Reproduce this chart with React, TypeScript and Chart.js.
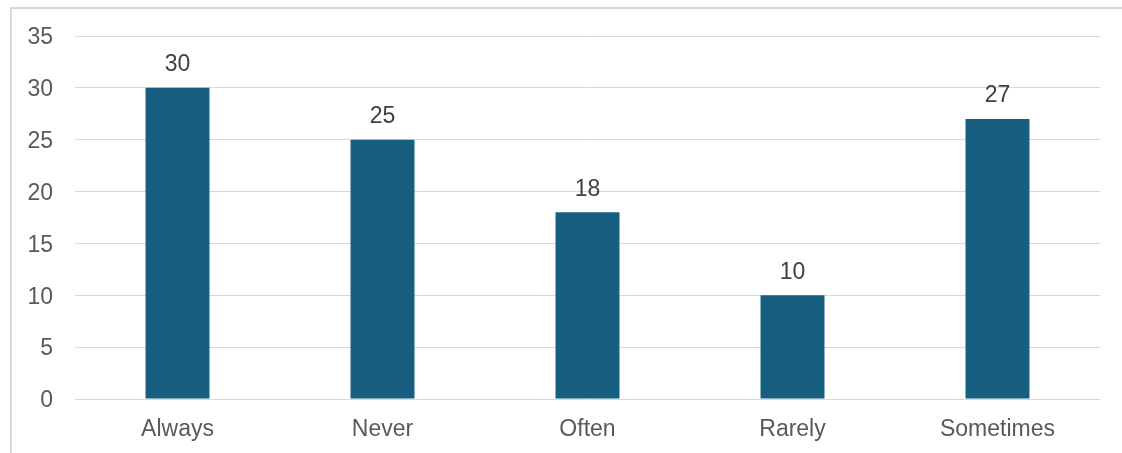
import React, { useEffect, useRef } from "react";
import { Chart, registerables, Plugin } from "chart.js";

Chart.register(...registerables);

const categories: string[] = ["Always", "Never", "Often", "Rarely", "Sometimes"];
const counts: number[] = [30, 25, 18, 10, 27];
const yTicks: number[] = [0, 5, 10, 15, 20, 25, 30, 35];

const FONT = "'Liberation Sans', Arial, sans-serif";
const FONT_SIZE = 23;

// Writes each bar's value above it
const valueLabels: Plugin<"bar"> = {
  id: "valueLabels",
  afterDatasetsDraw(chart) {
    const ctx = chart.ctx;
    const meta = chart.getDatasetMeta(0);
    const data = chart.data.datasets[0].data as number[];
    ctx.save();
    ctx.font = `${FONT_SIZE}px ${FONT}`;
    ctx.fillStyle = "#404040";
    ctx.textAlign = "center";
    ctx.textBaseline = "middle";
    meta.data.forEach((el, i) => {
      const { x, y } = el.getProps(["x", "y"], true) as { x: number; y: number };
      ctx.fillText(String(data[i]), x, y - 23);
    });
    ctx.restore();
  },
};

export default function App() {
  const canvasRef = useRef<HTMLCanvasElement | null>(null);

  useEffect(() => {
    if (!canvasRef.current) return;
    const chart = new Chart(canvasRef.current, {
      type: "bar",
      data: {
        labels: categories,
        datasets: [
          {
            data: counts,
            backgroundColor: "#165F80",
            categoryPercentage: 1,
            barPercentage: 0.312,
          },
        ],
      },
      options: {
        animation: false,
        responsive: false,
        maintainAspectRatio: false,
        layout: { padding: { left: 0, right: 22, top: 36, bottom: 0 } },
        plugins: {
          legend: { display: false },
          tooltip: { enabled: false },
        },
        scales: {
          x: {
            grid: { display: false, drawTicks: false },
            border: { display: false },
            ticks: {
              color: "#595959",
              font: { family: FONT, size: FONT_SIZE },
              padding: 17,
              maxRotation: 0,
            },
            afterFit(scale) {
              scale.height = 54;
            },
          },
          y: {
            min: 0,
            max: 35,
            afterBuildTicks(scale) {
              scale.ticks = yTicks.map((v) => ({ value: v }));
            },
            grid: { color: "#D9D9D9", lineWidth: 1, drawTicks: false },
            border: { display: false },
            ticks: {
              color: "#595959",
              font: { family: FONT, size: FONT_SIZE },
              padding: 22,
              labelOffset: 2,
            },
            afterFit(scale) {
              scale.width = 75;
            },
          },
        },
      },
      plugins: [valueLabels],
    });
    return () => chart.destroy();
  }, []);

  return (
    <div
      style={{
        position: "fixed",
        left: 0,
        top: 0,
        width: 1122,
        height: 453,
        background: "#FFFFFF",
        overflow: "hidden",
      }}
    >
      <div
        style={{
          position: "absolute",
          left: 10,
          top: 7,
          width: 1200,
          height: 500,
          borderLeft: "2px solid #D9D9D9",
          borderTop: "2px solid #D9D9D9",
          boxSizing: "border-box",
        }}
      />
      <canvas
        ref={canvasRef}
        width={1122}
        height={453}
        style={{ position: "absolute", left: 0, top: 0, width: 1122, height: 453 }}
      />
    </div>
  );
}
